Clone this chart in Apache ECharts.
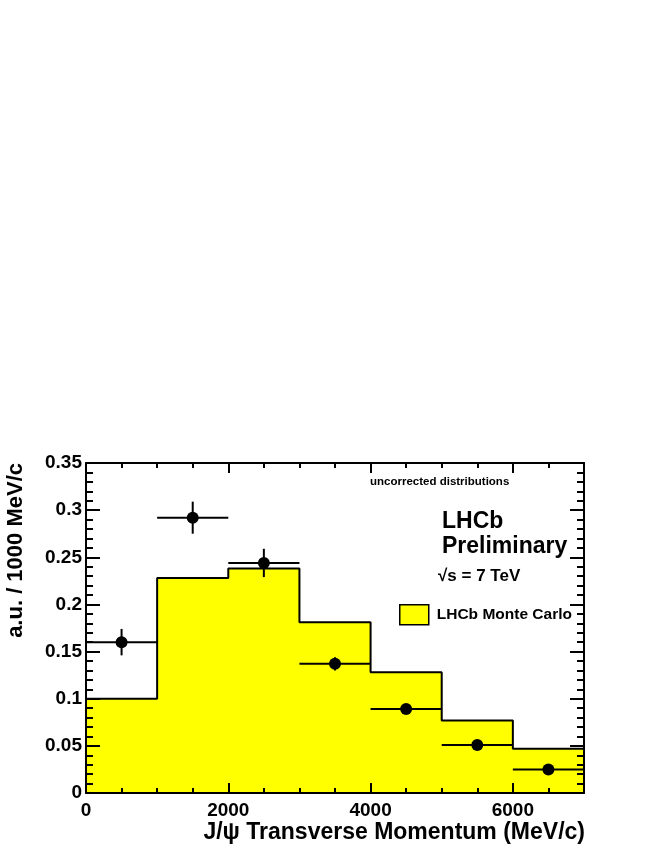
<!DOCTYPE html>
<html>
<head>
<meta charset="utf-8">
<script src="https://cdn.jsdelivr.net/npm/echarts@6/dist/echarts.min.js"></script>
<style>
    html, body { margin: 0; padding: 0; background: #fff; }
    #chart { width: 664px; height: 860px; }
</style>
</head>
<body>
<div id="chart"></div>
<script>
// bin edges of the histogram (MeV/c)
let binEdges = [0, 1000, 2000, 3000, 4000, 5000, 6000, 7000];
// LHCb Monte Carlo histogram contents
let mcValues = [0.100, 0.228, 0.238, 0.181, 0.128, 0.077, 0.047];
// data points (bin centres, values, vertical errors)
let dataCenters = [500, 1500, 2500, 3500, 4500, 5500, 6500];
let dataValues = [0.160, 0.292, 0.244, 0.137, 0.089, 0.051, 0.025];
let dataErrors = [0.014, 0.017, 0.015, 0.007, 0.004, 0.002, 0.002];
let binHalfWidth = 500;
// tick labels shown on the x axis
let xTickLabels = ['0', '2000', '4000', '6000'];

let fontFamily = '"Liberation Sans", Arial, Helvetica, sans-serif';

let chart = echarts.init(document.getElementById('chart'));

let histData = [];
mcValues.map(function(v, i) {
    histData.push([binEdges[i], v]);
});
histData.push([binEdges[binEdges.length - 1], mcValues[mcValues.length - 1]]);

let pointData = [];
dataCenters.map(function(x, i) {
    pointData.push([x, dataValues[i], dataErrors[i]]);
});

function fmtY(v) {
    return String(Math.round(v * 100) / 100);
}
function fmtX(v) {
    let s = String(Math.round(v));
    return xTickLabels.indexOf(s) >= 0 ? s : '';
}

let baseX = {
    type: 'value',
    min: 0,
    max: 7000,
    interval: 2000,
    z: 10,
    axisLine: { show: true, onZero: false, lineStyle: { color: '#000', width: 2 } },
    axisTick: { show: true, inside: true, length: 10, lineStyle: { color: '#000', width: 2 } },
    minorTick: { show: true, splitNumber: 4, length: 5, lineStyle: { color: '#000', width: 2 } },
    splitLine: { show: false },
    minorSplitLine: { show: false }
};
let baseY = {
    type: 'value',
    min: 0,
    max: 0.35,
    interval: 0.05,
    z: 10,
    axisLine: { show: true, onZero: false, lineStyle: { color: '#000', width: 2 } },
    axisTick: { show: true, inside: true, length: 14, lineStyle: { color: '#000', width: 2 } },
    minorTick: { show: true, splitNumber: 5, length: 7, lineStyle: { color: '#000', width: 2 } },
    splitLine: { show: false },
    minorSplitLine: { show: false }
};

let option = {
    backgroundColor: '#fff',
    animation: false,
    grid: {
        left: 86,
        right: 80,
        top: 463,
        bottom: 67
    },
    xAxis: [
        Object.assign({}, baseX, {
            position: 'bottom',
            axisLabel: {
                show: true,
                color: '#000',
                fontFamily: fontFamily,
                fontWeight: 'bold',
                fontSize: 19,
                margin: 8,
                formatter: fmtX
            }
        }),
        Object.assign({}, baseX, {
            position: 'top',
            axisLabel: { show: false }
        })
    ],
    yAxis: [
        Object.assign({}, baseY, {
            position: 'left',
            axisLabel: {
                show: true,
                color: '#000',
                fontFamily: fontFamily,
                fontWeight: 'bold',
                fontSize: 19,
                margin: 4,
                formatter: fmtY
            }
        }),
        Object.assign({}, baseY, {
            position: 'right',
            axisLabel: { show: false }
        })
    ],
    legend: {
        left: 399,
        top: 604,
        padding: 0,
        orient: 'vertical',
        selectedMode: false,
        itemWidth: 29,
        itemHeight: 20,
        data: [{
            name: 'LHCb Monte Carlo',
            icon: 'rect',
            itemStyle: { color: '#ffff00', borderColor: '#000', borderWidth: 1.5 }
        }],
        textStyle: {
            color: '#000',
            fontFamily: fontFamily,
            fontWeight: 'bold',
            fontSize: 15.5,
            padding: [0, 0, 0, 3]
        }
    },
    graphic: [
        {
            type: 'text',
            x: 16,
            y: 463,
            rotation: Math.PI / 2,
            style: {
                text: 'a.u. / 1000 MeV/c',
                fill: '#000',
                font: 'bold 22px ' + fontFamily,
                align: 'right',
                verticalAlign: 'middle'
            }
        },
        {
            type: 'text',
            x: 585,
            y: 833,
            style: {
                text: 'J/ψ Transverse Momentum (MeV/c)',
                fill: '#000',
                font: 'bold 23px ' + fontFamily,
                align: 'right',
                verticalAlign: 'middle'
            }
        },
        {
            type: 'text',
            x: 370,
            y: 482,
            style: {
                text: 'uncorrected distributions',
                fill: '#000',
                font: 'bold 11.5px ' + fontFamily,
                align: 'left',
                verticalAlign: 'middle'
            }
        },
        {
            type: 'text',
            x: 442,
            y: 522,
            style: {
                text: 'LHCb',
                fill: '#000',
                font: 'bold 23px ' + fontFamily,
                align: 'left',
                verticalAlign: 'middle'
            }
        },
        {
            type: 'text',
            x: 442,
            y: 547,
            style: {
                text: 'Preliminary',
                fill: '#000',
                font: 'bold 23px ' + fontFamily,
                align: 'left',
                verticalAlign: 'middle'
            }
        },
        {
            type: 'text',
            x: 438,
            y: 576,
            style: {
                text: '√s = 7 TeV',
                fill: '#000',
                font: 'bold 17px ' + fontFamily,
                align: 'left',
                verticalAlign: 'middle'
            }
        }
    ],
    series: [
        {
            name: 'LHCb Monte Carlo',
            type: 'line',
            step: 'end',
            xAxisIndex: 0,
            yAxisIndex: 0,
            showSymbol: false,
            symbol: 'none',
            z: 2,
            lineStyle: { color: '#000', width: 2 },
            itemStyle: { color: '#ffff00' },
            areaStyle: { color: '#ffff00', opacity: 1 },
            data: histData
        },
        {
            name: 'data',
            type: 'custom',
            xAxisIndex: 0,
            yAxisIndex: 0,
            z: 5,
            data: pointData,
            renderItem: function(params, api) {
                let x = api.value(0), y = api.value(1), e = api.value(2);
                let left = api.coord([x - binHalfWidth, y]);
                let right = api.coord([x + binHalfWidth, y]);
                let top = api.coord([x, y + e]);
                let bottom = api.coord([x, y - e]);
                let c = api.coord([x, y]);
                let stroke = { stroke: '#000', lineWidth: 2 };
                return {
                    type: 'group',
                    children: [
                        { type: 'line', shape: { x1: left[0], y1: left[1], x2: right[0], y2: right[1] }, style: stroke },
                        { type: 'line', shape: { x1: top[0], y1: top[1], x2: bottom[0], y2: bottom[1] }, style: stroke },
                        { type: 'circle', shape: { cx: c[0], cy: c[1], r: 6 }, style: { fill: '#000' } }
                    ]
                };
            }
        }
    ]
};

chart.setOption(option, true);
</script>
</body>
</html>
